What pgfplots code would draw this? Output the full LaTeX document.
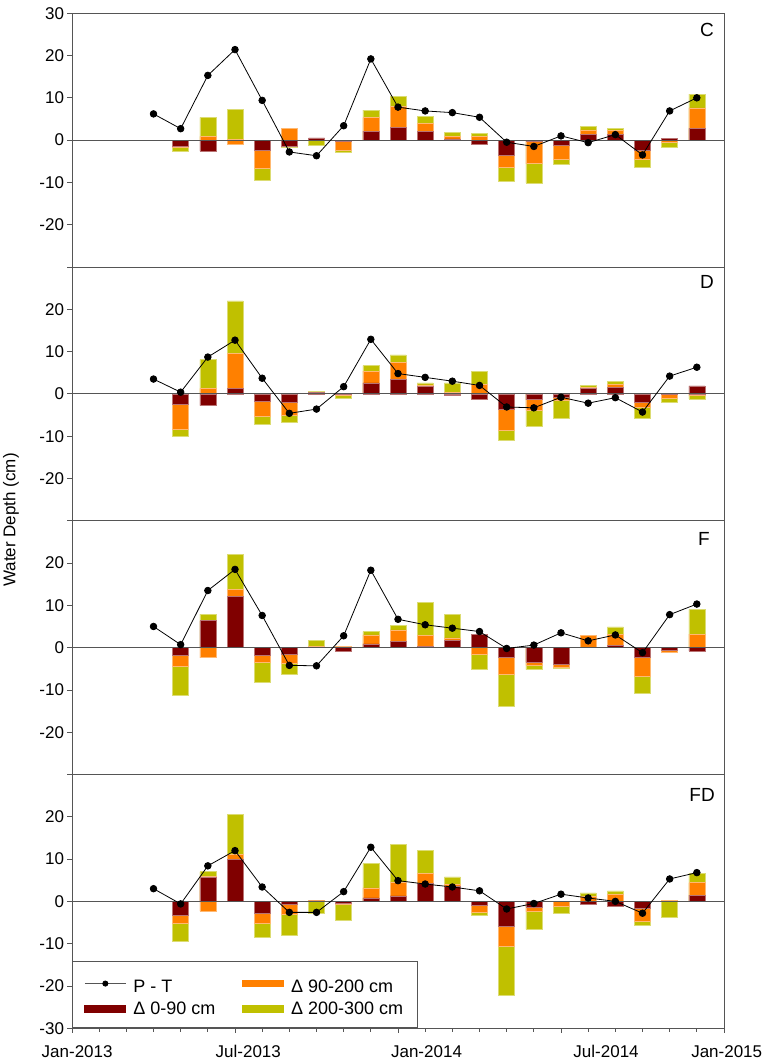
\documentclass[border=0pt]{standalone}
\usepackage{fontspec}
\setmainfont{Liberation Sans}
\usepackage{pgfplots}
\pgfplotsset{compat=1.18}
\definecolor{cR}{RGB}{128,0,0}
\definecolor{cO}{RGB}{255,128,0}
\definecolor{cG}{RGB}{192,192,0}
\definecolor{axgray}{RGB}{85,85,85}
\newcommand{\fs}{\fontsize{17bp}{20bp}\selectfont}
\pgfplotsset{
  panel/.style={
    scale only axis, width=652bp, height=253.75bp,
    anchor=south west, clip=false,
    xmin=0, xmax=24, ymin=-30, ymax=30,
    axis line style={axgray, line width=0.9bp},
    tick style={axgray, line width=0.8bp},
    tick align=outside,
    major tick length=4.5bp, minor tick length=3.5bp,
    ytick={-30,-20,...,30},
    ytick pos=left, xtick pos=left,
    yticklabel style={font=\fs},
    xtick=\empty,
  },
  gbar/.style={ybar, bar width=16bp, bar shift=0pt, draw=cG!55!white, line width=0.6bp, fill=cG, forget plot},
  obar/.style={ybar, bar width=16bp, bar shift=0pt, draw=cO!55!white, line width=0.6bp, fill=cO, forget plot},
  rbar/.style={ybar, bar width=16bp, bar shift=0pt, draw=cR!55!white, line width=0.6bp, fill=cR, forget plot},
  zline/.style={axgray, line width=0.9bp, forget plot},
  ptline/.style={black, line width=0.8bp, mark=*, mark size=3.3bp, mark options={fill=black}},
  legpt/.style={legend image code/.code={\draw[axgray, line width=0.9bp] (0bp,0bp) -- (41bp,0bp); \fill[black] (20.5bp,0bp) circle (2.6bp);}},
  legO/.style={legend image code/.code={\fill[cO] (0bp,-3.3bp) rectangle (41bp,3.3bp);}},
  legR/.style={legend image code/.code={\fill[cR] (0bp,-3.3bp) rectangle (41bp,3.3bp);}},
  legG/.style={legend image code/.code={\fill[cG] (0bp,-3.3bp) rectangle (41bp,3.3bp);}},
}
\begin{document}
\begin{tikzpicture}
\path[use as bounding box] (0,0) rectangle (765bp,1063bp);
\node[rotate=90, font=\fs] at (11bp,543bp) {Water Depth (cm)};

% ---------------- C ----------------
\begin{axis}[panel, at={(72bp,796bp)}, yticklabels={,-20,-10,0,10,20,30}]
\addplot[gbar] coordinates {(4,-2.6) (5,5.4) (6,7.3) (6,-0.9) (7,-9.6) (8,2.8) (8,-1.6) (9,-1.2) (10,-2.8) (11,7.1) (12,10.4) (13,5.7) (14,1.8) (15,1.5) (16,-9.7) (17,-10.1) (18,-5.7) (19,3.2) (20,2.7) (21,-6.4) (22,-1.7) (23,10.9)};
\addplot[obar] coordinates {(4,-1.6) (5,0.9) (6,0.2) (6,-0.9) (7,-6.6) (8,2.8) (10,-2.4) (11,5.3) (12,8.0) (13,4.0) (14,0.9) (15,0.9) (16,-6.5) (17,-5.6) (18,-4.6) (19,2.4) (20,2.3) (21,-4.6) (22,-0.4) (23,7.6)};
\addplot[rbar] coordinates {(4,-1.4) (5,-2.6) (7,-2.3) (8,-1.4) (9,0.5) (10,-0.2) (11,2.1) (12,3.1) (13,2.1) (14,0.3) (15,-1.1) (16,-3.5) (17,-0.2) (18,-1.3) (19,1.3) (20,1.3) (21,-2.4) (22,0.4) (23,2.8)};
\addplot[zline] coordinates {(0,0) (24,0)};
\addplot[ptline, forget plot] coordinates {(3,6.2) (4,2.7) (5,15.3) (6,21.4) (7,9.4) (8,-2.8) (9,-3.7) (10,3.4) (11,19.2) (12,7.8) (13,6.9) (14,6.5) (15,5.4) (16,-0.5) (17,-1.5) (18,1.0) (19,-0.6) (20,1.3) (21,-3.5) (22,6.9) (23,10.0)};
\node[anchor=north east, inner sep=0pt, font=\fontsize{19bp}{22bp}\selectfont] at (rel axis cs:1,1) [xshift=-10bp, yshift=-10bp] {C};
\end{axis}

% ---------------- D ----------------
\begin{axis}[panel, at={(72bp,542.25bp)}, yticklabels={,-20,-10,0,10,20,}]
\addplot[gbar] coordinates {(4,-10.1) (5,8.1) (6,22.0) (7,-7.1) (8,-6.8) (9,0.5) (10,-1.0) (11,6.7) (12,9.2) (13,2.6) (14,2.6) (15,5.4) (16,-11.0) (17,-7.6) (18,-5.8) (19,2.0) (20,3.0) (21,-5.7) (22,-2.0) (23,-1.2)};
\addplot[obar] coordinates {(4,-8.3) (5,1.3) (6,9.6) (7,-5.2) (8,-5.1) (9,0.4) (10,-0.4) (11,5.4) (12,7.4) (13,2.1) (14,0.4) (15,2.3) (16,-8.7) (17,-3.8) (18,-1.6) (19,1.5) (20,2.3) (21,-3.1) (22,-1.1) (23,-0.4)};
\addplot[rbar] coordinates {(4,-2.5) (5,-2.8) (6,1.2) (7,-1.7) (8,-2.0) (9,0.3) (10,-0.2) (11,2.6) (12,3.5) (13,1.7) (14,-0.4) (15,-1.2) (16,-3.7) (17,-1.4) (18,-0.9) (19,1.2) (20,1.5) (21,-2.1) (22,0.2) (23,1.9)};
\addplot[zline] coordinates {(0,0) (24,0)};
\addplot[ptline, forget plot] coordinates {(3,3.5) (4,0.4) (5,8.7) (6,12.7) (7,3.7) (8,-4.6) (9,-3.6) (10,1.7) (11,12.9) (12,4.8) (13,3.9) (14,3.0) (15,2.0) (16,-3.1) (17,-3.3) (18,-0.8) (19,-2.2) (20,-0.9) (21,-4.3) (22,4.2) (23,6.3)};
\node[anchor=north east, inner sep=0pt, font=\fontsize{19bp}{22bp}\selectfont] at (rel axis cs:1,1) [xshift=-10bp, yshift=-8bp] {D};
\end{axis}

% ---------------- F ----------------
\begin{axis}[panel, at={(72bp,288.5bp)}, yticklabels={,-20,-10,0,10,20,}]
\addplot[gbar] coordinates {(4,-11.3) (5,7.9) (6,22.1) (7,-8.3) (8,-6.4) (9,1.7) (11,3.8) (12,5.3) (13,10.6) (14,7.9) (15,-5.2) (16,-13.9) (17,-5.2) (18,-4.8) (19,2.9) (20,4.9) (21,-10.9) (23,9.0)};
\addplot[obar] coordinates {(4,-4.3) (5,-2.4) (6,13.7) (7,-3.5) (8,-3.6) (9,0.3) (10,0.3) (11,3.0) (12,4.2) (13,2.8) (14,2.3) (15,-1.6) (16,-6.3) (17,-4.2) (18,-4.6) (19,2.8) (20,3.1) (21,-6.8) (22,-1.0) (23,3.2)};
\addplot[rbar] coordinates {(4,-1.7) (5,6.4) (6,12.2) (7,-1.7) (8,-1.6) (9,0.1) (10,-0.9) (11,0.9) (12,1.5) (13,0.2) (14,1.7) (15,3.1) (16,-2.3) (17,-3.5) (18,-3.9) (20,0.5) (21,-2.4) (22,-0.6) (23,-0.8)};
\addplot[zline] coordinates {(0,0) (24,0)};
\addplot[ptline, forget plot] coordinates {(3,5.0) (4,0.7) (5,13.5) (6,18.5) (7,7.6) (8,-4.2) (9,-4.3) (10,2.8) (11,18.3) (12,6.7) (13,5.4) (14,4.6) (15,3.8) (16,-0.2) (17,0.6) (18,3.5) (19,1.6) (20,3.0) (21,-1.2) (22,7.8) (23,10.3)};
\node[anchor=north east, inner sep=0pt, font=\fontsize{19bp}{22bp}\selectfont] at (rel axis cs:1,1) [xshift=-14bp, yshift=-11bp] {F};
\end{axis}

% ---------------- FD ----------------
\begin{axis}[panel, at={(72bp,34.75bp)}, yticklabels={-30,-20,-10,0,10,20,},
  xtick={0,6,12,18,24}, xticklabels=\empty, minor xtick={1,...,23},
  legend columns=2,
  legend cell align=left,
  legend style={at={(0,0)}, anchor=south west, draw=axgray, line width=0.8bp, fill=white,
    font=\fontsize{18bp}{21bp}\selectfont, inner xsep=12bp, inner ysep=10bp,
    /tikz/every odd column/.append style={column sep=5bp},
    /tikz/every even column/.append style={column sep=25bp},
    row sep=4bp},
]
\addlegendimage{legpt}
\addlegendentry{\rule{0pt}{19bp}P - T}
\addlegendimage{legO}
\addlegendentry{\rule{0pt}{19bp}Δ 90-200 cm}
\addlegendimage{legR}
\addlegendentry{Δ 0-90 cm}
\addlegendimage{legG}
\addlegendentry{Δ 200-300 cm\hspace{10bp}}
\addplot[gbar] coordinates {(4,-9.4) (5,7.0) (6,20.6) (7,-8.5) (8,-8.0) (9,-2.8) (10,-4.4) (11,9.0) (12,13.5) (13,12.1) (14,5.8) (15,-3.3) (16,-22.1) (17,-6.6) (18,-2.8) (19,2.0) (20,2.5) (21,-5.7) (22,-3.7) (23,6.6)};
\addplot[obar] coordinates {(4,-5.3) (5,5.9) (5,-2.3) (6,11.2) (7,-5.1) (8,-3.1) (9,0.3) (10,-0.6) (11,3.2) (12,4.6) (13,6.6) (14,4.0) (15,-2.5) (16,-10.6) (17,-2.4) (18,-1.1) (19,1.2) (20,1.6) (21,-4.6) (22,0.3) (23,4.4)};
\addplot[rbar] coordinates {(4,-3.4) (5,5.7) (6,9.9) (7,-2.8) (8,-0.8) (9,0.1) (10,-0.4) (11,0.8) (12,1.3) (13,4.3) (14,3.6) (15,-1.0) (16,-5.9) (17,-1.3) (19,-0.8) (20,-1.1) (21,-1.7) (23,1.5)};
\addplot[zline] coordinates {(0,0) (24,0)};
\addplot[ptline, forget plot] coordinates {(3,3.0) (4,-0.6) (5,8.4) (6,12.0) (7,3.4) (8,-2.6) (9,-2.6) (10,2.3) (11,12.8) (12,4.9) (13,4.1) (14,3.4) (15,2.5) (16,-1.8) (17,-0.5) (18,1.7) (19,0.8) (20,0.0) (21,-2.8) (22,5.3) (23,6.8)};
\node[anchor=north east, inner sep=0pt, font=\fontsize{19bp}{22bp}\selectfont] at (rel axis cs:1,1) [xshift=-9bp, yshift=-14bp] {FD};
\node[anchor=base, font=\fs] at (axis cs:0.19,-30) [yshift=-29bp] {Jan-2013};
\node[anchor=base, font=\fs] at (axis cs:6.49,-30) [yshift=-29bp] {Jul-2013};
\node[anchor=base, font=\fs] at (axis cs:13.05,-30) [yshift=-29bp] {Jan-2014};
\node[anchor=base, font=\fs] at (axis cs:19.66,-30) [yshift=-29bp] {Jul-2014};
\node[anchor=base, font=\fs] at (axis cs:24.1,-30) [yshift=-29bp] {Jan-2015};
\end{axis}
\end{tikzpicture}
\end{document}
